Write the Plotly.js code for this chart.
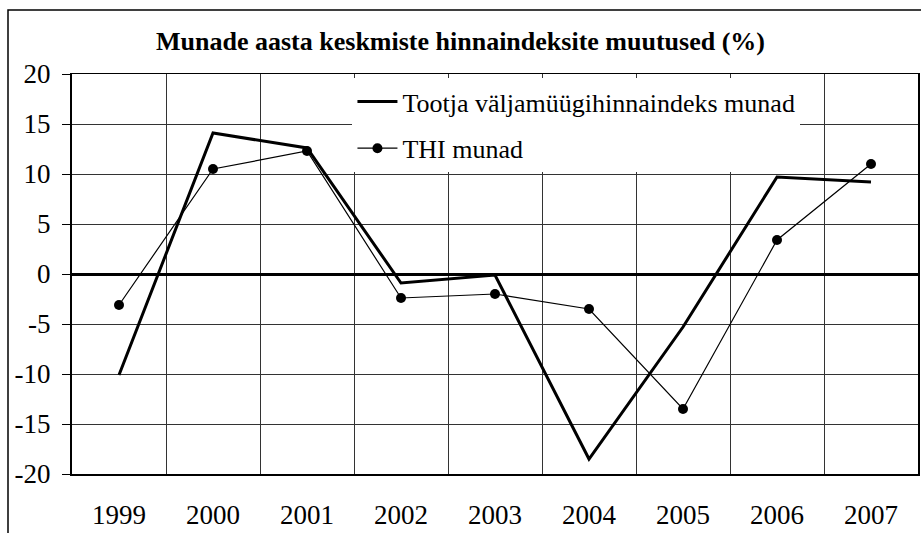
<!DOCTYPE html>
<html>
<head>
<meta charset="utf-8">
<script src="https://cdn.plot.ly/plotly-3.0.1.min.js"></script>
<style>html,body{margin:0;padding:0;background:#fff;}#chart{width:921px;height:533px;}</style>
</head>
<body>
<div id="chart"></div>
<script>
const years = ['1999','2000','2001','2002','2003','2004','2005','2006','2007'];
const tootja = [-10.1, 14.1, 12.6, -0.9, -0.1, -18.5, -5.3, 9.7, 9.2];
const thi = [-3.1, 10.5, 12.3, -2.4, -2.0, -3.5, -13.5, 3.4, 11.0];
const seriesNames = ['Tootja väljamüügihinnaindeks munad', 'THI munad'];
const chartTitle = 'Munade aasta keskmiste hinnaindeksite muutused (%)';
const yTickVals = [-20, -15, -10, -5, 0, 5, 10, 15, 20];
const yTickText = ['-20', '-15', '-10', '-5', '0', '5', '10', '15', '20'];

const font = "Liberation Serif";

const traces = [
  {x: years, y: tootja, name: seriesNames[0], type: 'scatter', mode: 'lines',
   line: {color: '#000', width: 3}, legendgroup: 'a', xaxis: 'x', yaxis: 'y'},
  {x: years, y: thi, name: seriesNames[1], type: 'scatter', mode: 'lines+markers',
   line: {color: '#000', width: 1.2}, marker: {color: '#000', size: 10, symbol: 'circle'},
   legendgroup: 'b', xaxis: 'x', yaxis: 'y'}
];

const layout = {
  width: 921, height: 533,
  margin: {l: 72, r: 3, t: 74, b: 59},
  paper_bgcolor: '#fff', plot_bgcolor: '#fff',
  font: {family: font, color: '#000', size: 26},
  title: {text: '<b>' + chartTitle + '</b>', font: {family: font, size: 26, color: '#000'},
          x: 0.5, xref: 'container', y: 1 - 41/533, yref: 'container', yanchor: 'middle'},
  showlegend: true,
  legend: {x: 0.3315, y: 0.99, xanchor: 'left', yanchor: 'top', bgcolor: '#fff',
           borderwidth: 0, font: {family: font, size: 26, color: '#000'},
           traceorder: 'grouped', tracegroupgap: 10, itemwidth: 40},
  xaxis: {type: 'category', categoryarray: years, range: [-0.5, 8.5],
          tickson: 'boundaries', showgrid: true, gridcolor: '#333', gridwidth: 1,
          ticks: '', showline: true, linecolor: '#000', linewidth: 1.5, mirror: true,
          ticklabelstandoff: 16, tickfont: {family: font, size: 27, color: '#000'},
          zeroline: false, fixedrange: true},
  xaxis2: {type: 'linear', range: [-0.5, 8.5], overlaying: 'x', anchor: 'free', position: 0.5,
           tickmode: 'linear', tick0: -0.5, dtick: 1, ticks: 'outside', ticklen: 6,
           tickwidth: 2, tickcolor: '#000', showticklabels: false, showgrid: false,
           showline: false, zeroline: false, side: 'bottom'},
  yaxis: {range: [-20, 20], tickmode: 'array', tickvals: yTickVals, ticktext: yTickText,
          showgrid: true, gridcolor: '#333', gridwidth: 1,
          ticks: 'outside', ticklen: 8, tickcolor: '#000', tickwidth: 1,
          showline: true, linecolor: '#000', linewidth: 2, mirror: true,
          zeroline: true, zerolinecolor: '#000', zerolinewidth: 3,
          tickfont: {family: font, size: 27, color: '#000'}, ticklabelstandoff: 6},
  shapes: [
    {type: 'rect', xref: 'paper', yref: 'paper', x0: (8-72)/846, x1: 1.2, y0: -0.3, y1: 1 + (74-10)/400,
     line: {color: '#000', width: 1.5}, fillcolor: 'rgba(0,0,0,0)', layer: 'below'}
  ]
};

Plotly.newPlot('chart', traces, layout, {displayModeBar: false, staticPlot: true});
</script>
</body>
</html>
